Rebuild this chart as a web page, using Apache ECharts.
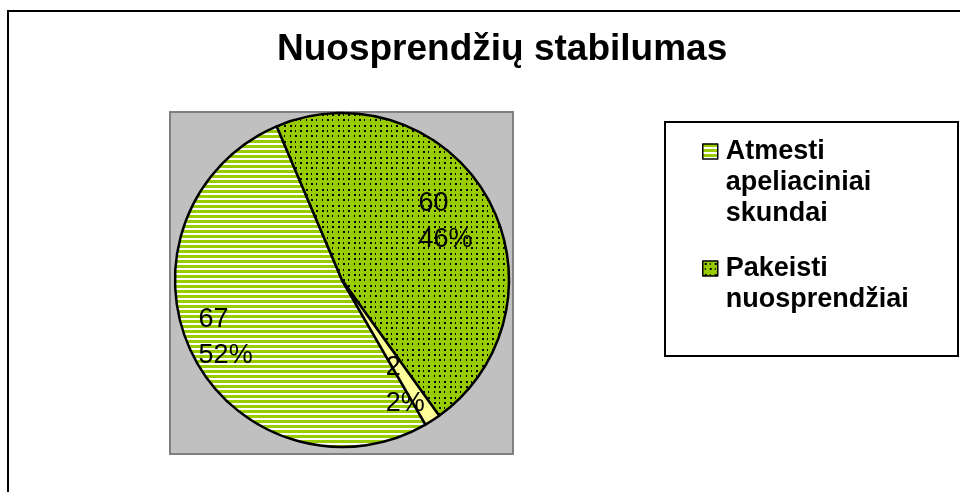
<!DOCTYPE html>
<html>
<head>
<meta charset="utf-8">
<script src="https://cdn.jsdelivr.net/npm/echarts@6/dist/echarts.min.js"></script>
<style>
html,body{margin:0;padding:0;background:#fff;}
#chart{width:960px;height:492px;}
</style>
</head>
<body>
<div id="chart"></div>
<script>
// ---- data ----
const TITLE = 'Nuosprendžių stabilumas';
const CATEGORIES = ['Atmesti apeliaciniai skundai', 'Pakeisti nuosprendžiai', 'Kita'];
const VALUES = [67, 60, 2];
const LEGEND_ITEMS = ['Atmesti apeliaciniai skundai', 'Pakeisti nuosprendžiai'];

// ---- styling (not data) ----
const GREEN = '#99cc00';
const LABEL_SHIFT = [[-37, 19], [30, -16], [26, 33]];
const LEGEND_LH = 31;

function stripePattern() {
  const c = document.createElement('canvas');
  c.width = 8; c.height = 5;
  const g = c.getContext('2d');
  g.fillStyle = '#ffffff'; g.fillRect(0, 0, 8, 5);
  g.fillStyle = GREEN; g.fillRect(0, 0, 8, 3);
  return c;
}
function dotPattern() {
  const c = document.createElement('canvas');
  c.width = 16; c.height = 16;
  const g = c.getContext('2d');
  g.fillStyle = GREEN; g.fillRect(0, 0, 16, 16);
  g.fillStyle = '#000000';
  const xs = [2, 7, 12], ys = [2, 7, 13];
  xs.forEach((x, i) => ys.forEach((y, j) => {
    g.fillRect(x, y, (i + j) % 2 === 0 ? 2 : 1, 2);
  }));
  return c;
}
const FILLS = [
  { image: stripePattern(), repeat: 'repeat' },
  { image: dotPattern(), repeat: 'repeat' },
  '#ffff99'
];

const pieData = CATEGORIES.map((name, i) => ({
  name: name,
  value: VALUES[i],
  itemStyle: { color: FILLS[i] }
}));

const chart = echarts.init(document.getElementById('chart'), null, { renderer: 'canvas' });
chart.setOption({
  animation: false,
  backgroundColor: '#ffffff',
  title: {
    text: TITLE,
    left: 277,
    top: 30,
    padding: 0,
    textStyle: { fontFamily: 'Liberation Sans, Arial, sans-serif', fontSize: 37, fontWeight: 'bold', color: '#000', lineHeight: 40 }
  },
  graphic: [
    { type: 'rect', z: 0, silent: true, shape: { x: 8, y: 11, width: 1000, height: 600 },
      style: { fill: 'none', stroke: '#000', lineWidth: 2 } },
    { type: 'rect', z: 0, silent: true, shape: { x: 170, y: 112, width: 343, height: 342 },
      style: { fill: '#c0c0c0', stroke: '#808080', lineWidth: 2 } },
    { type: 'rect', z: 0, silent: true, shape: { x: 665, y: 122, width: 293, height: 234 },
      style: { fill: '#fff', stroke: '#000', lineWidth: 2 } }
  ],
  legend: {
    data: LEGEND_ITEMS,
    orient: 'vertical',
    left: 702,
    top: 74,
    padding: 0,
    itemGap: -7,
    itemWidth: 15,
    itemHeight: 15,
    icon: 'rect',
    z: 10,
    selectedMode: false,
    itemStyle: { borderColor: '#000', borderWidth: 1.5 },
    formatter: name => {
      const words = name.split(' ');
      // blank lines above so the first line sits beside the icon
      return new Array(words.length).join('\n') + words.join('\n');
    },
    textStyle: { fontFamily: 'Liberation Sans, Arial, sans-serif', fontSize: 27, fontWeight: 'bold', color: '#000', lineHeight: LEGEND_LH, padding: [0, 0, 0, 3] }
  },
  series: [{
    type: 'pie',
    center: [342, 280],
    radius: 167,
    startAngle: -60,
    clockwise: true,
    percentPrecision: 0,
    avoidLabelOverlap: false,
    emphasis: { disabled: true },
    silent: true,
    itemStyle: { borderColor: '#000', borderWidth: 2.5 },
    label: {
      show: true,
      position: 'inside',
      formatter: p => '{v|' + p.value + '}\n{v|' + p.percent + '%}',
      rich: {
        v: { fontFamily: 'Liberation Sans, Arial, sans-serif', fontSize: 27, lineHeight: 36, color: '#000', width: 58, align: 'left' }
      }
    },
    labelLine: { show: false },
    labelLayout: p => ({ dx: LABEL_SHIFT[p.dataIndex][0], dy: LABEL_SHIFT[p.dataIndex][1] }),
    data: pieData
  }]
});
</script>
</body>
</html>
